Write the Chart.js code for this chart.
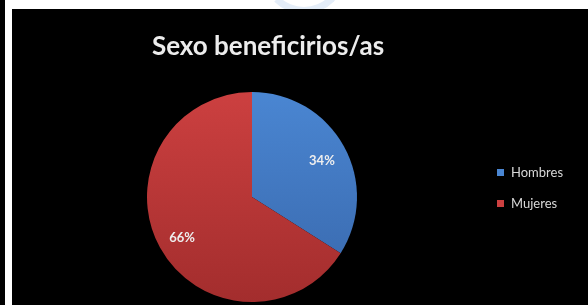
<!DOCTYPE html>
<html>
<head>
<meta charset="utf-8">
<script src="https://cdn.jsdelivr.net/npm/chart.js@4"></script>
<style>
  html, body { margin: 0; padding: 0; background: #fff; }
  body { width: 588px; height: 305px; position: relative; overflow: hidden; }
  #edge { position: absolute; left: 0; top: 0; width: 5px; height: 305px; background: #000; }
  #mark { position: absolute; left: 262px; top: -70px; width: 70px; height: 70px; border-radius: 50%;
          border: 7px solid #e4edf8; border-top-color: transparent; border-left-color: transparent; }
  #box { position: absolute; left: 12px; top: 9px; width: 576px; height: 296px; background: #000; }
</style>
</head>
<body>
<div id="edge"></div>
<div id="mark"></div>
<div id="box"><canvas id="sexChart" width="576" height="296"></canvas></div>
<script>
// pie data
const categories = ['Hombres', 'Mujeres'];
const shares = [34, 66];
const titleText = 'Sexo beneficirios/as';

const topColors = ['#4a86d2', '#cc4040'];
const bottomColors = ['#3867ab', '#a32d2d'];

// title, legend and % labels drawn on the canvas
const textPlugin = {
  id: 'textPlugin',
  afterDatasetsDraw(chart) {
    const ctx = chart.ctx;
    ctx.save();
    ctx.fillStyle = '#ececec';
    ctx.font = 'bold 26px Lato';
    ctx.textAlign = 'center';
    ctx.textBaseline = 'middle';
    ctx.fillText(titleText, 256, 38);

    // slice labels
    ctx.font = 'bold 13px Lato';
    ctx.fillStyle = '#eeeeee';
    chart.getDatasetMeta(0).data.forEach((arc, i) => {
      const mid = (arc.startAngle + arc.endAngle) / 2;
      const r = arc.outerRadius * 0.76;
      ctx.fillText(shares[i] + '%', arc.x + Math.cos(mid) * r, arc.y + Math.sin(mid) * r + 2);
    });

    // legend
    ctx.textAlign = 'left';
    ctx.font = '13px Lato';
    categories.forEach((c, i) => {
      const y = 163 + i * 31;
      ctx.fillStyle = topColors[i];
      ctx.fillRect(485, y - 3, 7, 7);
      ctx.fillStyle = '#d8d8d8';
      ctx.fillText(c, 499, y + 1);
    });
    ctx.restore();
  }
};

function sliceFill(context) {
  const i = context.dataIndex;
  const area = context.chart.chartArea;
  if (!area) return topColors[i];
  const g = context.chart.ctx.createLinearGradient(0, 83, 0, 293);
  g.addColorStop(0, topColors[i]);
  g.addColorStop(1, bottomColors[i]);
  return g;
}

new Chart(document.getElementById('sexChart').getContext('2d'), {
  type: 'pie',
  data: { labels: categories, datasets: [{ data: shares, backgroundColor: sliceFill, borderWidth: 0 }] },
  options: {
    responsive: false,
    animation: false,
    layout: { padding: { left: 0, right: 96, top: 83, bottom: 3 } },
    plugins: { legend: { display: false }, title: { display: false }, tooltip: { enabled: false } }
  },
  plugins: [textPlugin]
});
</script>
</body>
</html>
